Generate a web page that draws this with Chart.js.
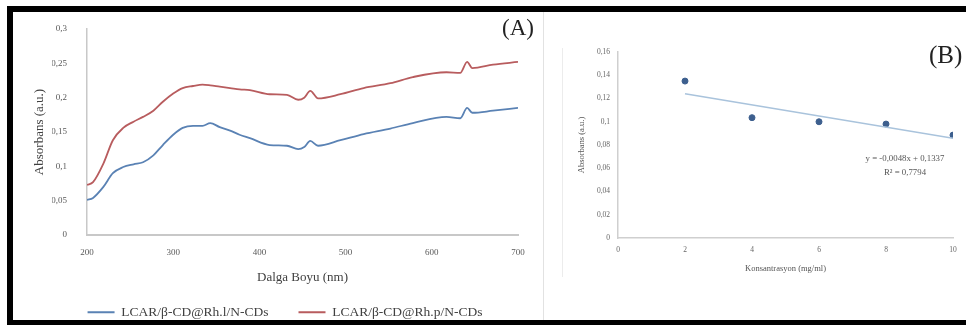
<!DOCTYPE html>
<html>
<head>
<meta charset="utf-8">
<script src="https://cdn.jsdelivr.net/npm/chart.js@4.4.1/dist/chart.umd.min.js"></script>
<style>
  html, body { margin: 0; padding: 0; background: #fff; overflow: hidden; }
  body { width: 966px; height: 325px; position: relative; font-family: 'Liberation Serif', 'Times New Roman', serif; }
  .frame { position: absolute; left: 7px; top: 6px; width: 980px; height: 308px; border: 6px solid #000; border-right: none; }
  .box { position: absolute; }
  .sep { position: absolute; width: 1px; }
  .tag { position: absolute; color: #222; }
  .eq { position: absolute; left: 843px; top: 151px; width: 124px; text-align: center; font-size: 8.8px; line-height: 14px; color: #555; }
</style>
</head>
<body>
<div class="sep" style="left:543px;top:12px;height:308px;background:#e2e2e2"></div>
<div class="sep" style="left:562px;top:48px;height:229px;background:#ececec"></div>
<div class="frame"></div>

<div class="box" style="left:13px;top:12px;width:530px;height:317px"><canvas id="chartA"></canvas></div>
<div class="box" style="left:545px;top:12px;width:421px;height:308px"><canvas id="chartB"></canvas></div>

<div class="tag" style="left:502px;top:15px;font-size:23px">(A)</div>
<div class="tag" style="left:929px;top:41px;font-size:25px">(B)</div>
<div class="eq">y = -0,0048x + 0,1337<br>R² = 0,7794</div>

<script>
// ===== DATA =====
const wavelengths = [200, 207, 219, 230, 242, 254, 265, 277, 288, 300, 311, 323, 334, 343, 354, 366, 377, 389,
  412, 432, 445, 452, 459, 468, 494, 521, 552, 578, 617, 633, 641, 647, 671, 700];
const absLN = [0.051, 0.054, 0.070, 0.090, 0.099, 0.103, 0.106, 0.116, 0.131, 0.146, 0.156, 0.159, 0.159, 0.163, 0.157, 0.152, 0.146, 0.141,
  0.131, 0.130, 0.125, 0.128, 0.137, 0.130, 0.138, 0.147, 0.155, 0.163, 0.172, 0.170, 0.185, 0.178, 0.181, 0.185];
const absPN = [0.073, 0.077, 0.104, 0.138, 0.156, 0.165, 0.172, 0.181, 0.194, 0.206, 0.214, 0.217, 0.219, 0.218, 0.216, 0.214, 0.212, 0.211,
  0.205, 0.204, 0.197, 0.200, 0.210, 0.199, 0.205, 0.214, 0.221, 0.230, 0.237, 0.236, 0.252, 0.243, 0.248, 0.252];
const seriesNames = ['LCAR/β-CD@Rh.l/N-CDs', 'LCAR/β-CD@Rh.p/N-CDs'];

const concentrations = [2, 4, 6, 8, 10];
const absConc = [0.135, 0.1035, 0.100, 0.098, 0.0885];
const trendX = [2, 10];
const trendY = [0.1241, 0.0857];   // y = -0,0048x + 0,1337

const SERIF = "'Liberation Serif', 'Times New Roman', serif";
const commaFmt = v => String(parseFloat(v.toFixed(2))).replace('.', ',');
const toPts = (xs, ys) => xs.map((x, i) => ({ x: x, y: ys[i] }));

// ===== CHART A =====
// tick gap is done with an invisible tick mark so it doesn't add to the layout padding
new Chart(document.getElementById('chartA'), {
  type: 'line',
  data: {
    datasets: [{
      label: seriesNames[0],
      data: toPts(wavelengths, absLN),
      borderColor: '#5a82b4',
      backgroundColor: '#5a82b4',
      borderWidth: 1.8,
      pointRadius: 0,
      cubicInterpolationMode: 'monotone'
    }, {
      label: seriesNames[1],
      data: toPts(wavelengths, absPN),
      borderColor: '#b85c5e',
      backgroundColor: '#b85c5e',
      borderWidth: 1.8,
      pointRadius: 0,
      cubicInterpolationMode: 'monotone'
    }]
  },
  options: {
    responsive: true,
    maintainAspectRatio: false,
    animation: false,
    layout: { padding: { top: 17, right: 25, left: 39, bottom: 0 } },
    plugins: {
      legend: {
        position: 'bottom',
        labels: { color: '#404040', font: { family: SERIF, size: 13.5 }, boxWidth: 27, boxHeight: 0, padding: 30 }
      },
      tooltip: { enabled: false }
    },
    scales: {
      x: {
        type: 'linear', min: 200, max: 700,
        ticks: { stepSize: 100, color: '#595959', padding: 0, font: { family: SERIF, size: 9 } },
        grid: { display: false, drawTicks: true, tickLength: 12 },
        border: { display: true, color: '#c8c8c8', width: 2 },
        title: { display: true, text: 'Dalga Boyu (nm)', color: '#404040', font: { family: SERIF, size: 13 }, padding: { top: 0, bottom: -9.5 } },
        afterFit: s => { s.height = 40.5; }
      },
      y: {
        min: 0, max: 0.3,
        ticks: { stepSize: 0.05, color: '#595959', padding: 0, font: { family: SERIF, size: 9 }, callback: commaFmt },
        grid: { display: false, drawTicks: true, tickLength: 20 },
        border: { display: true, color: '#c8c8c8', width: 1.5 },
        title: { display: true, text: 'Absorbans (a.u.)', color: '#404040', font: { family: SERIF, size: 13 }, padding: { top: -19.8, bottom: 0 } },
        afterFit: s => { s.width = 35; }
      }
    }
  }
});

// ===== CHART B =====
new Chart(document.getElementById('chartB'), {
  type: 'scatter',
  data: {
    datasets: [{
      type: 'line',
      data: toPts(trendX, trendY),
      borderColor: '#a9c3dc',
      borderWidth: 1.5,
      pointRadius: 0
    }, {
      data: toPts(concentrations, absConc),
      backgroundColor: '#3d5f8e',
      borderColor: '#3d5f8e',
      pointRadius: 3
    }]
  },
  options: {
    responsive: true,
    maintainAspectRatio: false,
    animation: false,
    layout: { padding: { top: 40, right: 13, left: 0, bottom: 0 } },
    plugins: { legend: { display: false }, tooltip: { enabled: false } },
    scales: {
      x: {
        type: 'linear', min: 0, max: 10,
        ticks: { stepSize: 2, color: '#666', padding: 8, font: { family: SERIF, size: 7.5 } },
        grid: { display: false, drawTicks: false },
        border: { display: true, color: '#cfcfcf', width: 1.5 },
        title: { display: true, text: 'Konsantrasyon (mg/ml)', color: '#555', font: { family: SERIF, size: 8.5 }, padding: { top: 0, bottom: 46 } },
        afterFit: s => { s.height = 82; }
      },
      y: {
        min: 0, max: 0.16,
        ticks: { stepSize: 0.02, color: '#666', padding: 8, font: { family: SERIF, size: 7.5 }, callback: commaFmt },
        grid: { display: false, drawTicks: false },
        border: { display: true, color: '#cfcfcf', width: 1.5 },
        title: { display: true, text: 'Absorbans (a.u.)', color: '#555', font: { family: SERIF, size: 8.5 }, padding: { top: 32, bottom: 0 } },
        afterFit: s => { s.width = 73; }
      }
    }
  }
});
</script>
</body>
</html>
